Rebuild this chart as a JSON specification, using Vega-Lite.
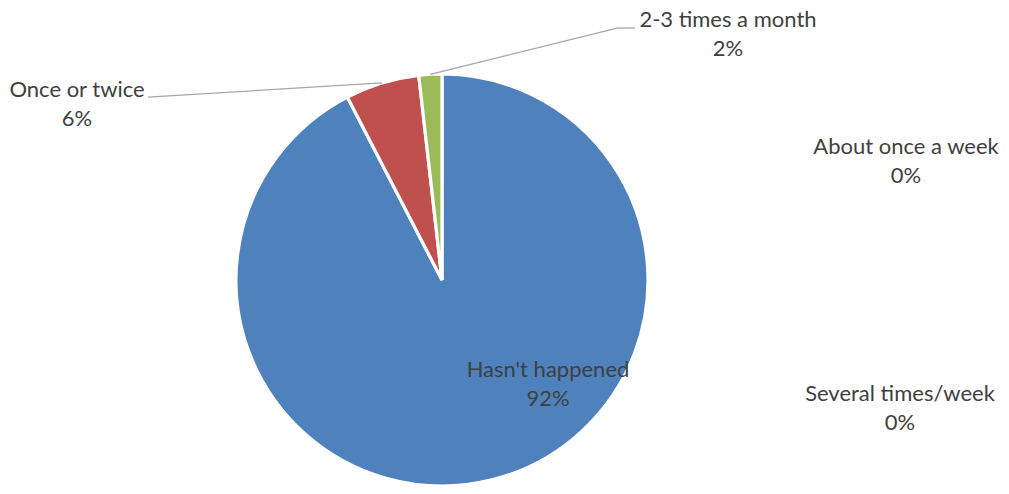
{
  "$schema": "https://vega.github.io/schema/vega-lite/v6.json",
  "width": 412,
  "height": 412,
  "autosize": {"type": "none"},
  "padding": {"left": 236, "top": 74, "right": 361, "bottom": 8},
  "background": "white",
  "config": {
    "view": {"stroke": null},
    "text": {"font": "Lato", "fontSize": 22, "color": "#404040", "lineHeight": 29, "align": "center", "baseline": "middle", "lineBreak": "\n"}
  },
  "data": {
    "values": [
      {"cat": "Hasn't happened", "v": 92.4, "i": 1},
      {"cat": "Once or twice", "v": 5.8, "i": 2},
      {"cat": "2-3 times a month", "v": 1.8, "i": 3},
      {"cat": "About once a week", "v": 0, "i": 4},
      {"cat": "Several times/week", "v": 0, "i": 5}
    ]
  },
  "transform": [
    {"window": [{"op": "sum", "field": "v", "as": "cum"}], "sort": [{"field": "i", "order": "ascending"}], "frame": [null, 0]},
    {"calculate": "datum.cum - datum.v", "as": "start"},
    {"calculate": "datum.cum - datum.v / 2", "as": "mid"},
    {"calculate": "sin(datum.mid / 100 * 2 * PI)", "as": "sx"},
    {"calculate": "cos(datum.mid / 100 * 2 * PI)", "as": "sy"},
    {"calculate": "datum.cat + '\\n' + format(datum.v / 100, '.0%')", "as": "lbl"}
  ],
  "layer": [
    {
      "transform": [{"filter": "datum.v > 0"}],
      "mark": {"type": "arc", "stroke": "white", "strokeWidth": 3.2},
      "encoding": {
        "theta": {"field": "start", "type": "quantitative", "scale": {"domain": [0, 100]}},
        "theta2": {"field": "cum"},
        "color": {
          "field": "cat", "type": "nominal",
          "scale": {"domain": ["Hasn't happened", "Once or twice", "2-3 times a month", "About once a week", "Several times/week"], "range": ["#4F81BD", "#C0504D", "#9BBB59", "#8064A2", "#4BACC6"]},
          "legend": null
        }
      }
    },
    {
      "transform": [{"filter": "datum.i == 2"}],
      "mark": {"type": "rule", "stroke": "#a6a6a6", "strokeWidth": 1.3},
      "encoding": {
        "x": {"field": "sx", "type": "quantitative", "scale": {"domain": [-1, 1]}, "axis": null},
        "y": {"field": "sy", "type": "quantitative", "scale": {"domain": [-1, 1]}, "axis": null},
        "x2": {"datum": -1.427},
        "y2": {"datum": 0.888}
      }
    },
    {
      "transform": [{"filter": "datum.i == 3"}],
      "mark": {"type": "rule", "stroke": "#a6a6a6", "strokeWidth": 1.3},
      "encoding": {
        "x": {"field": "sx", "type": "quantitative", "scale": {"domain": [-1, 1]}, "axis": null},
        "y": {"field": "sy", "type": "quantitative", "scale": {"domain": [-1, 1]}, "axis": null},
        "x2": {"datum": 0.85},
        "y2": {"datum": 1.223}
      }
    },
    {
      "transform": [{"filter": "datum.i == 3"}],
      "mark": {"type": "rule", "stroke": "#a6a6a6", "strokeWidth": 1.3},
      "encoding": {
        "x": {"datum": 0.85, "type": "quantitative", "scale": {"domain": [-1, 1]}, "axis": null},
        "y": {"datum": 1.223, "type": "quantitative", "scale": {"domain": [-1, 1]}, "axis": null},
        "x2": {"datum": 0.937}
      }
    },
    {
      "transform": [{"filter": "datum.i == 1"}],
      "mark": {"type": "text", "radius": 150, "dx": 70.5, "dy": -55.3},
      "encoding": {"theta": {"field": "mid", "type": "quantitative", "scale": {"domain": [0, 100]}}, "text": {"field": "lbl"}}
    },
    {
      "transform": [{"filter": "datum.i == 2"}],
      "mark": {"type": "text", "radius": 206, "dx": -305, "dy": 7},
      "encoding": {"theta": {"field": "mid", "type": "quantitative", "scale": {"domain": [0, 100]}}, "text": {"field": "lbl"}}
    },
    {
      "transform": [{"filter": "datum.i == 3"}],
      "mark": {"type": "text", "radius": 206, "dx": 297.6, "dy": -54.3},
      "encoding": {"theta": {"field": "mid", "type": "quantitative", "scale": {"domain": [0, 100]}}, "text": {"field": "lbl"}}
    },
    {
      "transform": [{"filter": "datum.i == 4"}],
      "mark": {"type": "text", "radius": 206, "dx": 464, "dy": 72.5},
      "encoding": {"theta": {"field": "mid", "type": "quantitative", "scale": {"domain": [0, 100]}}, "text": {"field": "lbl"}}
    },
    {
      "transform": [{"filter": "datum.i == 5"}],
      "mark": {"type": "text", "radius": 206, "dx": 458, "dy": 320},
      "encoding": {"theta": {"field": "mid", "type": "quantitative", "scale": {"domain": [0, 100]}}, "text": {"field": "lbl"}}
    }
  ]
}
